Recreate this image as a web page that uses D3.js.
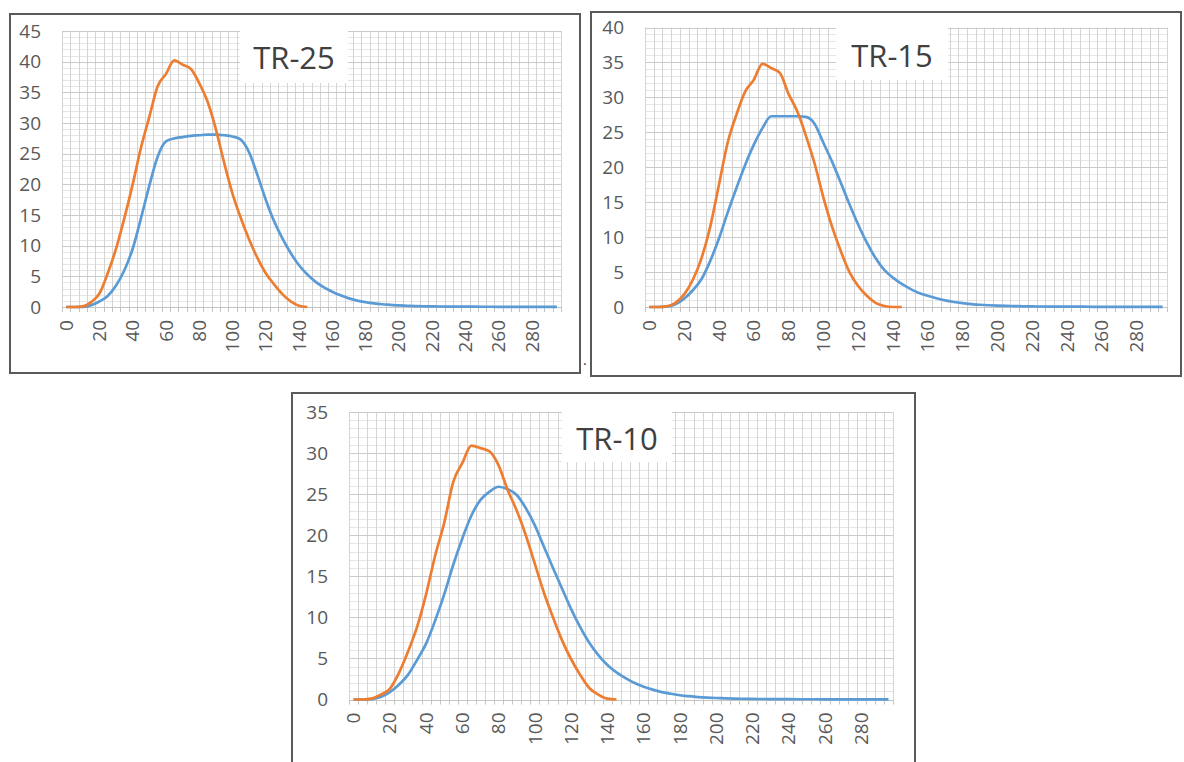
<!DOCTYPE html>
<html>
<head>
<meta charset="utf-8">
<script src="https://cdn.jsdelivr.net/npm/d3@7/dist/d3.min.js"></script>
<style>
  html, body { margin: 0; padding: 0; background: #ffffff; }
  svg { display: block; }
</style>
</head>
<body>
<svg id="chart" width="1184" height="762"></svg>
<script>
// Category axis (x values, step 5)
const categories = [0,5,10,15,20,25,30,35,40,45,50,55,60,65,70,75,80,85,90,95,
  100,105,110,115,120,125,130,135,140,145,150,155,160,165,170,175,180,185,190,195,
  200,205,210,215,220,225,230,235,240,245,250,255,260,265,270,275,280,285,290,295];
const xTickLabels = [0,20,40,60,80,100,120,140,160,180,200,220,240,260,280];

// TR-25
const tr25Orange = [0,0,0.1,0.8,2.2,5.5,9.5,14.5,20,26,31,36,38,40.2,39.5,38.8,36.5,33.5,29,23.5,
  18.5,14.5,11,8,5.5,3.7,2.1,0.9,0.2,0];
const tr25Blue = [0,0,0,0.3,0.9,1.8,3.5,6,9.5,14.5,19.8,24.5,27,27.5,27.7,27.9,28,28.1,28.1,28,
  27.8,27.3,25.2,21.5,17.5,14,11.2,8.8,6.8,5.3,4.1,3.2,2.5,1.9,1.4,1.05,0.8,0.6,0.45,0.35,
  0.25,0.2,0.15,0.12,0.1,0.08,0.07,0.06,0.05,0.05,0.04,0.04,0.03,0.03,0.03,0.02,0.02,0.02,0.02,0.02];
const tr25YTicks = [0,5,10,15,20,25,30,35,40,45];

// TR-15
const tr15Orange = [0,0,0.1,0.6,1.8,3.9,7,11.5,17.5,23.5,27.5,30.8,32.5,34.8,34.2,33.5,30.5,28,24.5,20.5,
  15.7,11.5,8,5,3,1.6,0.6,0.15,0,0];
const tr15Blue = [0,0,0.05,0.4,1.2,2.4,4,6.6,9.8,13.5,17,20.3,23.2,25.6,27.3,27.3,27.3,27.3,27.2,26.2,
  23.5,20.8,17.8,14.7,11.8,9.2,7,5.3,4.2,3.3,2.6,2,1.6,1.25,0.95,0.72,0.55,0.42,0.32,0.25,
  0.2,0.16,0.13,0.1,0.08,0.07,0.06,0.05,0.05,0.04,0.04,0.03,0.03,0.03,0.02,0.02,0.02,0.02,0.02,0.02];
const tr15YTicks = [0,5,10,15,20,25,30,35,40];

// TR-10
const tr10Orange = [0,0,0.1,0.6,1.3,3.2,5.8,8.8,12.8,17.5,21.5,26.5,28.8,30.9,30.6,30.2,28.5,25.5,23,20,
  16.5,13,10,7.2,4.9,3,1.4,0.6,0.1,0];
const tr10Blue = [0,0,0.05,0.3,0.9,1.8,3,4.8,6.8,9.6,12.8,16.4,19.6,22.4,24.3,25.3,25.9,25.6,24.9,23.3,
  21.2,18.6,16,13.5,11,8.8,6.9,5.4,4.2,3.3,2.6,2,1.55,1.2,0.9,0.7,0.52,0.4,0.3,0.23,
  0.18,0.14,0.11,0.09,0.07,0.06,0.05,0.04,0.04,0.03,0.03,0.03,0.02,0.02,0.02,0.02,0.02,0.02,0.02,0.02];
const tr10YTicks = [0,5,10,15,20,25,30,35];

const titles = ["TR-25", "TR-15", "TR-10"];

const ORANGE = "#ED7D31";
const BLUE = "#5B9BD5";
const FONT = "'Open Sans', 'Noto Sans', sans-serif";

const panels = [
  { title: titles[0], orange: tr25Orange, blue: tr25Blue, yTicks: tr25YTicks,
    frame: [10, 14, 580, 373], plot: { left: 62, right: 561, top: 31, bottom: 307 },
    titleBox: [240, 26, 348, 83], titleX: 294, titleY: 69 },
  { title: titles[1], orange: tr15Orange, blue: tr15Blue, yTicks: tr15YTicks,
    frame: [591, 12, 1181, 376], plot: { left: 645, right: 1167, top: 27.5, bottom: 307 },
    titleBox: [836, 24, 948, 80], titleX: 892, titleY: 67 },
  { title: titles[2], orange: tr10Orange, blue: tr10Blue, yTicks: tr10YTicks,
    frame: [292, 393, 915, 775], plot: { left: 349, right: 893, top: 412, bottom: 699.5 },
    titleBox: [562, 410, 672, 462], titleX: 617, titleY: 450 }
];

const svg = d3.select("#chart");

function drawPanel(p) {
  const g = svg.append("g");
  const { left, right, top, bottom } = p.plot;
  const yMax = p.yTicks[p.yTicks.length - 1];

  const x = d3.scaleBand().domain(categories).range([left, right]).padding(0);
  const y = d3.scaleLinear().domain([0, yMax]).range([bottom, top]);
  const cx = c => x(c) + x.bandwidth() / 2;

  // frame
  g.append("rect")
    .attr("x", p.frame[0]).attr("y", p.frame[1])
    .attr("width", p.frame[2] - p.frame[0]).attr("height", p.frame[3] - p.frame[1])
    .attr("fill", "#ffffff").attr("stroke", "#5a5a5a").attr("stroke-width", 2);

  // minor horizontal gridlines (every 1)
  const minorY = d3.range(0, yMax + 0.5, 1);
  g.append("g").selectAll("line").data(minorY).join("line")
    .attr("x1", left).attr("x2", right)
    .attr("y1", d => Math.round(y(d)) + 0.5).attr("y2", d => Math.round(y(d)) + 0.5)
    .attr("stroke", "#e6e6e6").attr("stroke-width", 1);

  // vertical gridlines at category boundaries
  const bounds = categories.map(c => x(c)).concat([right]);
  g.append("g").selectAll("line").data(bounds).join("line")
    .attr("x1", d => Math.round(d) + 0.5).attr("x2", d => Math.round(d) + 0.5)
    .attr("y1", top).attr("y2", bottom)
    .attr("stroke", "#d4d4d4").attr("stroke-width", 1);

  // major horizontal gridlines
  g.append("g").selectAll("line").data(p.yTicks).join("line")
    .attr("x1", left).attr("x2", right)
    .attr("y1", d => Math.round(y(d)) + 0.5).attr("y2", d => Math.round(y(d)) + 0.5)
    .attr("stroke", "#cbcbcb").attr("stroke-width", 1);

  // x axis line and ticks
  g.append("line")
    .attr("x1", left).attr("x2", right)
    .attr("y1", Math.round(bottom) + 0.5).attr("y2", Math.round(bottom) + 0.5)
    .attr("stroke", "#c4c4c4").attr("stroke-width", 1);
  g.append("g").selectAll("line").data(bounds).join("line")
    .attr("x1", d => Math.round(d) + 0.5).attr("x2", d => Math.round(d) + 0.5)
    .attr("y1", bottom).attr("y2", bottom + 5)
    .attr("stroke", "#c4c4c4").attr("stroke-width", 1);

  // y tick labels
  g.append("g").selectAll("text").data(p.yTicks).join("text")
    .attr("x", left - 21).attr("y", d => y(d))
    .attr("dy", "0.35em").attr("text-anchor", "end")
    .attr("font-family", FONT).attr("font-size", 19).attr("fill", "#595959")
    .text(d => d);

  // x tick labels (rotated)
  g.append("g").selectAll("text").data(xTickLabels).join("text")
    .attr("transform", d => `translate(${cx(d)},${bottom + 13}) rotate(-90)`)
    .attr("dy", "0.35em").attr("text-anchor", "end")
    .attr("font-family", FONT).attr("font-size", 19).attr("fill", "#595959")
    .text(d => d);

  // series
  const line = d3.line()
    .x((d, i) => cx(categories[i]))
    .y(d => y(d))
    .curve(d3.curveMonotoneX);

  g.append("path").datum(p.blue)
    .attr("d", line).attr("fill", "none")
    .attr("stroke", BLUE).attr("stroke-width", 2.7).attr("stroke-linejoin", "round");
  g.append("path").datum(p.orange)
    .attr("d", line).attr("fill", "none")
    .attr("stroke", ORANGE).attr("stroke-width", 2.7).attr("stroke-linejoin", "round");

  // title box
  g.append("rect")
    .attr("x", p.titleBox[0]).attr("y", p.titleBox[1])
    .attr("width", p.titleBox[2] - p.titleBox[0]).attr("height", p.titleBox[3] - p.titleBox[1])
    .attr("fill", "#ffffff");
  g.append("text")
    .attr("x", p.titleX).attr("y", p.titleY)
    .attr("text-anchor", "middle")
    .attr("font-family", FONT).attr("font-size", 31).attr("fill", "#404040")
    .text(p.title);
}

panels.forEach(drawPanel);

// small stray mark between the two upper panels
svg.append("text").attr("x", 583).attr("y", 365)
  .attr("font-family", FONT).attr("font-size", 14).attr("fill", "#333")
  .text(".");
</script>
</body>
</html>
